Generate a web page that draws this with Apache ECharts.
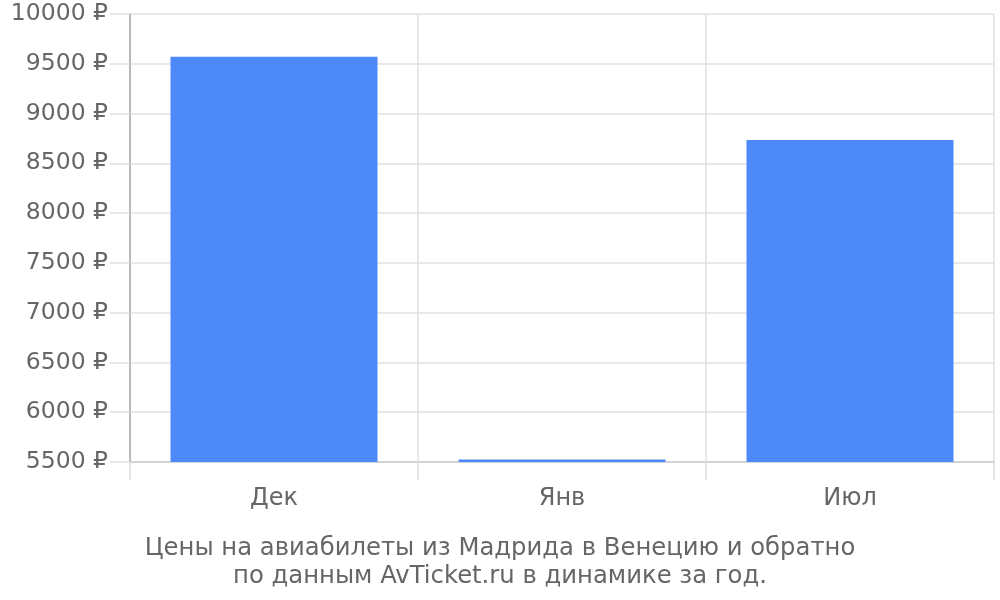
<!DOCTYPE html>
<html><head><meta charset="utf-8">
<script src="https://cdn.jsdelivr.net/npm/echarts@6/dist/echarts.min.js"></script>
<style>html,body{margin:0;padding:0;background:#fff}#c{width:1000px;height:600px}</style>
</head><body><div id="c"></div>
<script>
const categories = ['Дек', 'Янв', 'Июл'];
const prices = [9570, 5525, 8735];
const titleLines = ['Цены на авиабилеты из Мадрида в Венецию и обратно', 'по данным AvTicket.ru в динамике за год.'];
const font = 'DejaVu Sans';
const chart = echarts.init(document.getElementById('c'));
chart.setOption({
  animation: false,
  textStyle: { fontFamily: font },
  title: {
    text: titleLines.join('\n'),
    left: 'center', top: 530,
    textStyle: { fontFamily: font, fontSize: 24.3, fontWeight: 'normal', color: '#666', lineHeight: 28 }
  },
  grid: { left: 130, right: 6, top: 14, bottom: 138, containLabel: false },
  xAxis: {
    type: 'category', data: categories,
    boundaryGap: true,
    axisLine: { show: true, lineStyle: { color: '#ccc', width: 1.5 } },
    axisTick: { show: true, length: 18, lineStyle: { color: '#ddd', width: 1.5 } },
    splitLine: { show: true, lineStyle: { color: '#e0e0e0', width: 1.5 } },
    axisLabel: { fontFamily: font, fontSize: 24, color: '#666', margin: 25 }
  },
  yAxis: {
    type: 'value', min: 5500, max: 10000, interval: 500,
    axisLine: { show: true, lineStyle: { color: '#aaa', width: 1.5 } },
    axisTick: { show: true, length: 20, lineStyle: { color: '#e0e0e0', width: 1.5 } },
    splitLine: { show: true, lineStyle: { color: '#e0e0e0', width: 1.5 } },
    axisLabel: { fontFamily: font, fontSize: 23.5, color: '#666', margin: 22, padding: [3, 0, 0, 0], formatter: v => v + ' ₽' }
  },
  series: [{
    type: 'bar', data: prices, barWidth: 207,
    itemStyle: { color: '#4d89f9' }
  }]
});
</script></body></html>
